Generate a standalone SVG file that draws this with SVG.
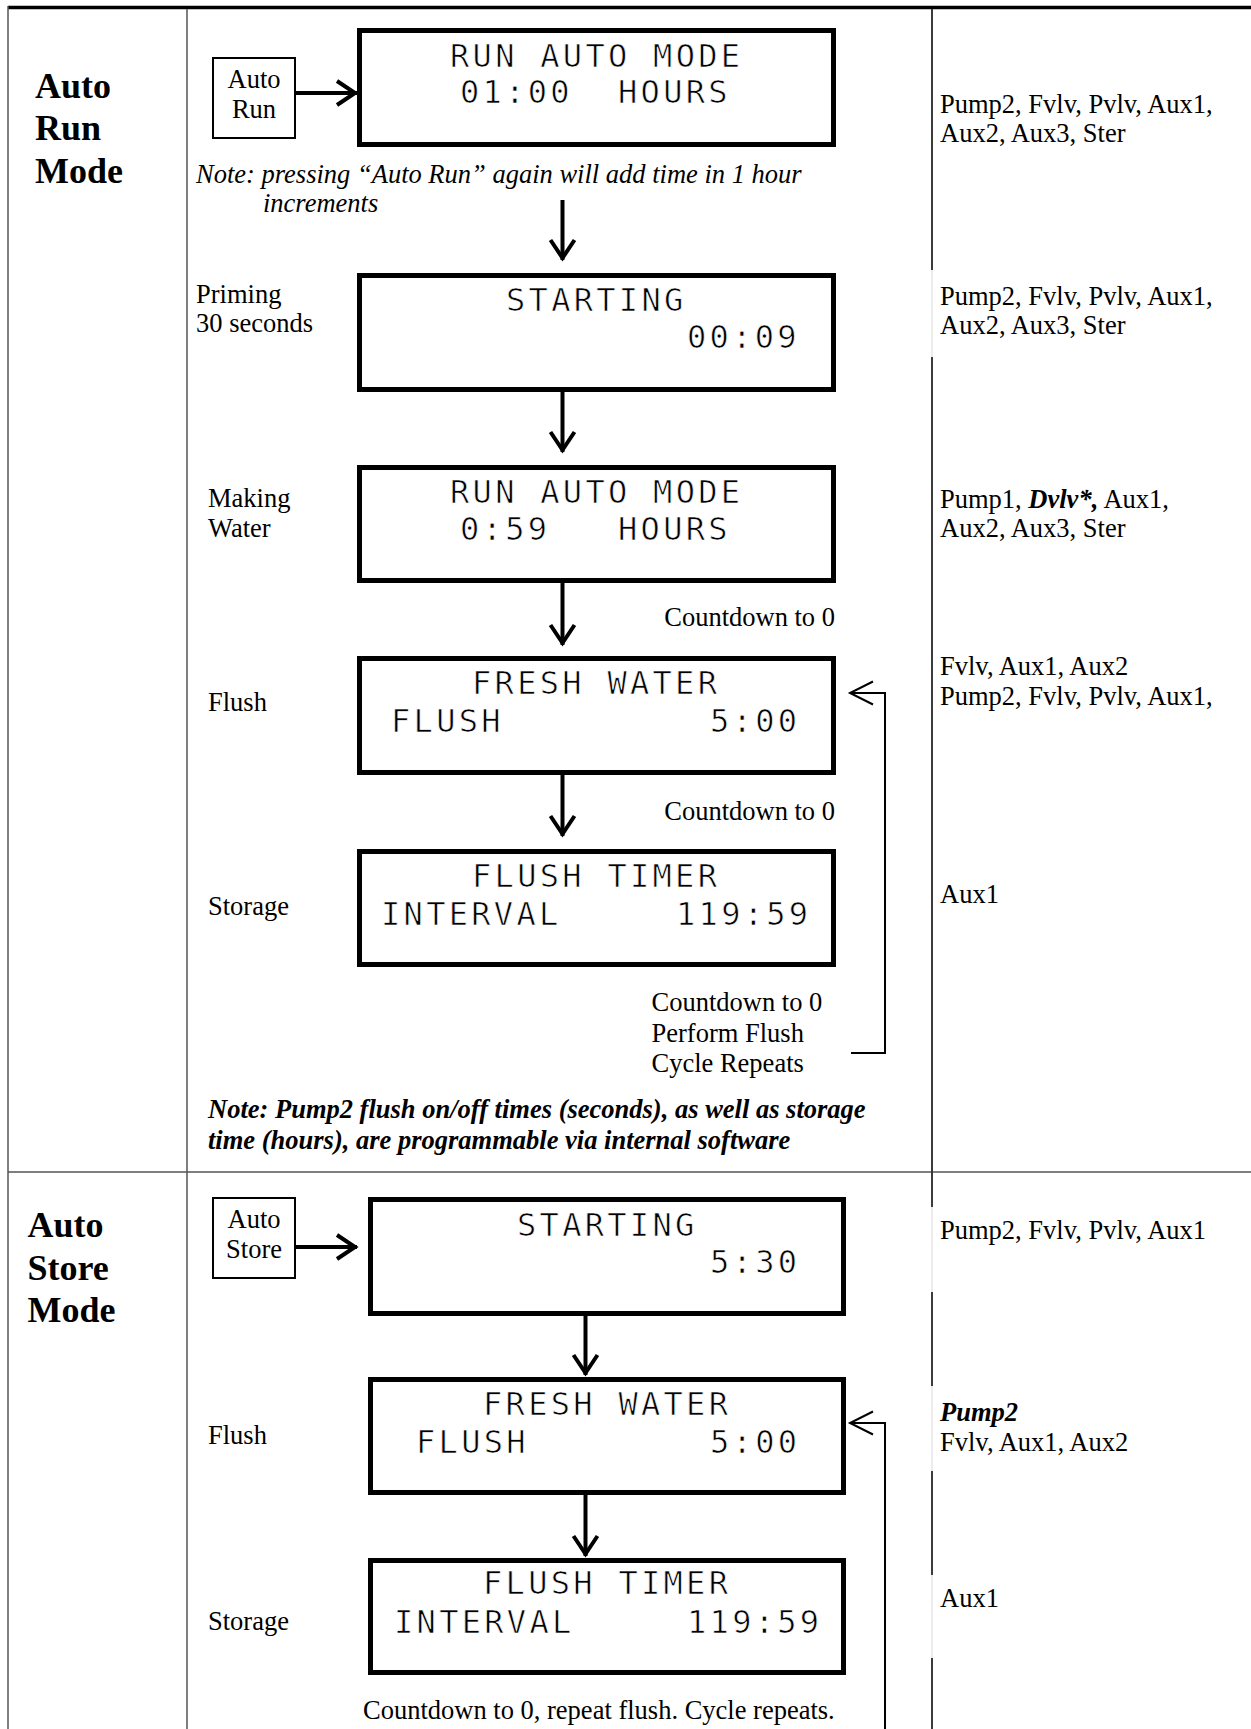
<svg xmlns="http://www.w3.org/2000/svg" width="1251" height="1729" viewBox="0 0 1251 1729">
<style>
.t{font-family:"Liberation Serif","Times New Roman",serif;font-size:26.5px;fill:#000}
.ti{font-style:italic}
.tbi{font-style:italic;font-weight:bold}
.title{font-family:"Liberation Serif","Times New Roman",serif;font-size:36px;font-weight:bold;fill:#000}
.lcd{font-family:"DejaVu Sans Mono",monospace;font-size:32px;letter-spacing:3.3px;fill:#000;stroke:#fff;stroke-width:0.7px}
.box{fill:#fff;stroke:#000;stroke-width:5}
.btn{fill:#fff;stroke:#000;stroke-width:2}
.grid{stroke:#555;stroke-width:1.5;fill:none}
.rdiv{stroke:#000;stroke-width:1.5;fill:none}
.faint{stroke:#e6e6e6;stroke-width:1.5;fill:none}
.arr{stroke:#000;stroke-width:4;fill:none;marker-end:url(#ah)}
.thin{stroke:#000;stroke-width:2;fill:none;marker-end:url(#ahs)}
</style>
<defs>
<marker id="ah" viewBox="-24 -16 28 32" refX="0" refY="0" markerWidth="28" markerHeight="32" markerUnits="userSpaceOnUse" orient="auto"><path d="M-20,-12 L-2,0 L-20,12" fill="none" stroke="#000" stroke-width="4"/></marker>
<marker id="ahs" viewBox="-26 -14 30 28" refX="0" refY="0" markerWidth="30" markerHeight="28" markerUnits="userSpaceOnUse" orient="auto"><path d="M-23,-11.5 L0,0 L-23,11.5" fill="none" stroke="#000" stroke-width="2"/></marker>
</defs>
<rect width="1251" height="1729" fill="#fff"/>

<g id="table">
<line x1="8" y1="7.5" x2="1251" y2="7.5" stroke="#000" stroke-width="3.5"/>
<line class="grid" x1="8" y1="6" x2="8" y2="1729"/>
<line class="grid" x1="187" y1="9" x2="187" y2="1729"/>
<line class="grid" x1="8" y1="1172" x2="1251" y2="1172"/>
<line class="faint" x1="932" y1="9" x2="932" y2="1729"/>
<path class="rdiv" d="M932,9V270M932,357V1207M932,1292V1386M932,1471V1575M932,1658V1729"/>
</g>

<g id="section-titles">
<text class="title" x="35" y="98">Auto</text>
<text class="title" x="35" y="140">Run</text>
<text class="title" x="35" y="183">Mode</text>
<text class="title" x="27.5" y="1237">Auto</text>
<text class="title" x="27.5" y="1280">Store</text>
<text class="title" x="27.5" y="1322">Mode</text>
</g>

<g id="btn-auto-run">
<rect class="btn" x="213" y="58" width="82" height="80"/>
<text class="t" x="254" y="88" text-anchor="middle">Auto</text>
<text class="t" x="254" y="118" text-anchor="middle">Run</text>
</g>

<g id="lcd-run1">
<rect class="box" x="359.5" y="30.5" width="474" height="114"/>
<text class="lcd" x="450" y="67">RUN AUTO MODE</text>
<text class="lcd" y="103"><tspan x="460">01:00</tspan><tspan x="618">HOURS</tspan></text>
</g>

<g id="note-1">
<text class="t ti" x="196" y="183">Note: pressing “Auto Run” again will add time in 1 hour</text>
<text class="t ti" x="263" y="212">increments</text>
</g>

<g id="lcd-starting1">
<rect class="box" x="359.5" y="275.5" width="474" height="114"/>
<text class="lcd" x="506" y="311">STARTING</text>
<text class="lcd" x="687" y="348">00:09</text>
</g>

<g id="lcd-run2">
<rect class="box" x="359.5" y="467.5" width="474" height="113"/>
<text class="lcd" x="450" y="503">RUN AUTO MODE</text>
<text class="lcd" y="540"><tspan x="460">0:59</tspan><tspan x="618">HOURS</tspan></text>
</g>

<g id="lcd-flush1">
<rect class="box" x="359.5" y="658.5" width="474" height="114"/>
<text class="lcd" x="472" y="694">FRESH WATER</text>
<text class="lcd" y="732"><tspan x="391">FLUSH</tspan><tspan x="710">5:00</tspan></text>
</g>

<g id="lcd-timer1">
<rect class="box" x="359.5" y="851.5" width="474" height="113"/>
<text class="lcd" x="472" y="887">FLUSH TIMER</text>
<text class="lcd" y="925"><tspan x="381">INTERVAL</tspan><tspan x="676">119:59</tspan></text>
</g>

<g id="labels-left-1">
<text class="t" x="196" y="303">Priming</text>
<text class="t" x="196" y="332">30 seconds</text>
<text class="t" x="208" y="507">Making</text>
<text class="t" x="208" y="537">Water</text>
<text class="t" x="208" y="711">Flush</text>
<text class="t" x="208" y="915">Storage</text>
</g>

<g id="labels-countdown-1">
<text class="t" x="835" y="626" text-anchor="end">Countdown to 0</text>
<text class="t" x="835" y="820" text-anchor="end">Countdown to 0</text>
<text class="t" x="651.5" y="1011">Countdown to 0</text>
<text class="t" x="651.5" y="1042">Perform Flush</text>
<text class="t" x="651.5" y="1072">Cycle Repeats</text>
</g>

<g id="note-2">
<text class="t tbi" x="208" y="1118">Note: Pump2 flush on/off times (seconds), as well as storage</text>
<text class="t tbi" x="208" y="1149">time (hours), are programmable via internal software</text>
</g>

<g id="outputs-1">
<text class="t" x="940" y="113">Pump2, Fvlv, Pvlv, Aux1,</text>
<text class="t" x="940" y="142">Aux2, Aux3, Ster</text>
<text class="t" x="940" y="305">Pump2, Fvlv, Pvlv, Aux1,</text>
<text class="t" x="940" y="334">Aux2, Aux3, Ster</text>
<text class="t" x="940" y="508">Pump1, <tspan class="tbi">Dvlv*,</tspan> Aux1,</text>
<text class="t" x="940" y="537">Aux2, Aux3, Ster</text>
<text class="t" x="940" y="675">Fvlv, Aux1, Aux2</text>
<text class="t" x="940" y="705">Pump2, Fvlv, Pvlv, Aux1,</text>
<text class="t" x="940" y="903">Aux1</text>
</g>

<g id="btn-auto-store">
<rect class="btn" x="213" y="1198" width="82" height="80"/>
<text class="t" x="254" y="1228" text-anchor="middle">Auto</text>
<text class="t" x="254" y="1258" text-anchor="middle">Store</text>
</g>

<g id="lcd-starting2">
<rect class="box" x="370.5" y="1199.5" width="473" height="114"/>
<text class="lcd" x="517" y="1236">STARTING</text>
<text class="lcd" x="710" y="1273">5:30</text>
</g>

<g id="lcd-flush2">
<rect class="box" x="370.5" y="1379.5" width="473" height="113"/>
<text class="lcd" x="483" y="1415">FRESH WATER</text>
<text class="lcd" y="1453"><tspan x="416">FLUSH</tspan><tspan x="710">5:00</tspan></text>
</g>

<g id="lcd-timer2">
<rect class="box" x="370.5" y="1560.5" width="473" height="112"/>
<text class="lcd" x="483" y="1594">FLUSH TIMER</text>
<text class="lcd" y="1633"><tspan x="394">INTERVAL</tspan><tspan x="687">119:59</tspan></text>
</g>

<g id="labels-left-2">
<text class="t" x="208" y="1444">Flush</text>
<text class="t" x="208" y="1630">Storage</text>
<text class="t" x="363" y="1719">Countdown to 0, repeat flush. Cycle repeats.</text>
</g>

<g id="outputs-2">
<text class="t" x="940" y="1239">Pump2, Fvlv, Pvlv, Aux1</text>
<text class="t tbi" x="940" y="1421">Pump2</text>
<text class="t" x="940" y="1451">Fvlv, Aux1, Aux2</text>
<text class="t" x="940" y="1607">Aux1</text>
</g>

<g id="connectors">
<path class="arr" d="M296,93H357"/>
<path class="arr" d="M562.5,200V260"/>
<path class="arr" d="M562.5,392V452"/>
<path class="arr" d="M562.5,583V645"/>
<path class="arr" d="M562.5,775V836"/>
<path class="thin" d="M851,1053H885V693H850"/>
<path class="arr" d="M296,1247H357"/>
<path class="arr" d="M585.5,1316V1375"/>
<path class="arr" d="M585.5,1495V1556"/>
<path class="thin" d="M885,1729V1423H850"/>
</g>
</svg>
